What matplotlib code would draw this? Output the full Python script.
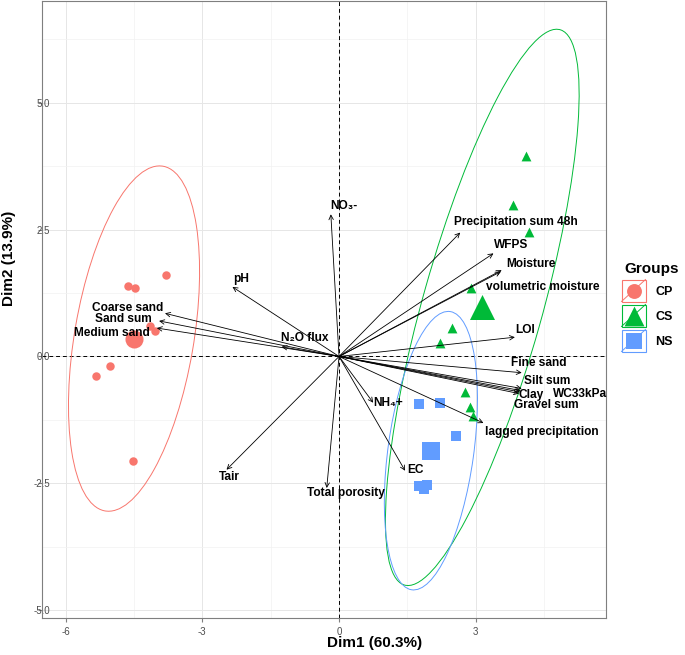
# PCA biplot (Dim1 vs Dim2) with group ellipses and variable arrows
import numpy as np
import matplotlib

matplotlib.use('Agg')
import matplotlib.pyplot as plt
from matplotlib.patches import Ellipse, Rectangle

plt.rcParams['font.family'] = ['Liberation Sans', 'DejaVu Sans']

# individuals
cp_x = [-3.80, -4.64, -4.47, -4.15, -4.05, -5.03, -5.34, -4.52]
cp_y = [1.60, 1.39, 1.35, 0.60, 0.51, -0.19, -0.38, -2.06]
cs_x = [4.18, 3.81, 4.11, 2.90, 2.49, 2.21, 2.77, 2.88, 2.95]
cs_y = [2.46, 2.99, 3.95, 1.34, 0.56, 0.26, -0.69, -1.00, -1.17]
ns_x = [1.76, 2.22, 2.56, 1.76, 1.93, 1.87]
ns_y = [-0.94, -0.92, -1.56, -2.56, -2.54, -2.61]

group_names = ['CP', 'CS', 'NS']
group_colors = ['#F8766D', '#00BA38', '#619CFF']
group_markers = ['o', '^', 's']
point_sizes = [37, 50, 45]
mean_sizes = [169, 324, 187]
# ellipse shape per group: var(Dim1), cov, var(Dim2)
ellipse_shape = [[2.07, 1.90, 11.56], [4.52, 8.93, 30.0], [1.045, 1.04, 7.52]]

# variables: arrow tips and label places
var_names = ['NO\u2083-', 'pH', 'Coarse sand', 'Sand sum', 'Medium sand',
             'N\u2082O flux', 'Tair', 'Total porosity', 'EC', 'NH\u2084+',
             'lagged precipitation', 'Gravel sum', 'WC33kPa', 'Clay',
             'Silt sum', 'Fine sand', 'LOI', 'volumetric moisture',
             'Moisture', 'WFPS', 'Precipitation sum 48h']
var_x = [-0.18, -2.34, -3.82, -3.95, -4.00, -1.26, -2.47, -0.27, 1.45, 0.75,
         3.17, 3.95, 3.97, 3.98, 4.01, 4.01, 3.86, 3.55, 3.57, 3.39, 2.66]
var_y = [2.80, 1.37, 0.85, 0.70, 0.56, 0.19, -2.23, -2.59, -2.25, -0.91,
         -1.31, -0.73, -0.70, -0.67, -0.63, -0.32, 0.38, 1.67, 1.70, 2.03, 2.44]
label_x = [0.11, -2.15, -4.65, -4.73, -4.98, -0.75, -2.41, 0.16, 1.67, 1.08,
           4.45, 4.54, 5.29, 4.21, 4.56, 4.38, 4.08, 4.47, 4.21, 3.77, 3.89]
label_y = [2.96, 1.53, 0.95, 0.74, 0.47, 0.36, -2.37, -2.69, -2.23, -0.92,
           -1.48, -0.96, -0.73, -0.75, -0.49, -0.13, 0.52, 1.37, 1.82, 2.19, 2.65]


def draw_ellipse(ax, cx, cy, shape, color):
    cov = np.array([[shape[0], shape[1]], [shape[1], shape[2]]])
    vals, vecs = np.linalg.eigh(cov)
    angle = np.degrees(np.arctan2(vecs[1, 1], vecs[0, 1]))
    ell = Ellipse((cx, cy), 2 * np.sqrt(vals[1]), 2 * np.sqrt(vals[0]),
                  angle=angle, fill=False, edgecolor=color, lw=0.7, zorder=2)
    ax.add_patch(ell)


def main():
    fig = plt.figure(figsize=(6.85, 6.55), dpi=100)
    ax = fig.add_axes([42 / 685, 37 / 655, 564 / 685, 617 / 655])

    groups_x = [cp_x, cs_x, ns_x]
    groups_y = [cp_y, cs_y, ns_y]
    for gx, gy, col, mk, s1, s2, shp in zip(groups_x, groups_y, group_colors, group_markers,
                                            point_sizes, mean_sizes, ellipse_shape):
        mx = np.mean(gx)
        my = np.mean(gy)
        draw_ellipse(ax, mx, my, shp, col)
        ax.scatter(gx, gy, s=s1, marker=mk, color=col, linewidths=0, zorder=3)
        ax.scatter([mx], [my], s=s2, marker=mk, color=col, linewidths=0, zorder=3)

    # axes through origin
    ax.axhline(0, color='black', ls=(0, (4, 3)), lw=0.7, zorder=1)
    ax.axvline(0, color='black', ls=(0, (4, 3)), lw=0.7, zorder=1)

    # variable arrows
    for i in range(len(var_names)):
        ax.annotate('', xy=(var_x[i], var_y[i]), xytext=(0, 0),
                    arrowprops=dict(arrowstyle='->', lw=0.6, color='black',
                                    shrinkA=0, shrinkB=0, mutation_scale=8),
                    zorder=4)
        ax.text(label_x[i], label_y[i], var_names[i], ha='center', va='center',
                fontsize=8.6, fontweight='bold', zorder=5)

    ax.set_xlim(-6.52, 5.86)
    ax.set_ylim(-5.15, 7.0)
    ax.set_xticks([-6, -3, 0, 3])
    ax.set_xticklabels(['-6', '-3', '0', '3'])
    ax.set_yticks([-5, -2.5, 0, 2.5, 5])
    ax.set_yticklabels(['-5.0', '-2.5', '0.0', '2.5', '5.0'])
    ax.set_xticks([-4.5, -1.5, 1.5, 4.5], minor=True)
    ax.set_yticks([-3.75, -1.25, 1.25, 3.75, 6.25], minor=True)
    ax.grid(True, which='major', color='#E6E6E6', lw=0.7, zorder=0)
    ax.grid(True, which='minor', color='#F2F2F2', lw=0.5, zorder=0)
    ax.set_axisbelow(True)
    ax.tick_params(which='minor', length=0)
    ax.tick_params(axis='both', which='major', length=3, color='#7F7F7F',
                   labelsize=7, labelcolor='#4D4D4D')
    ax.tick_params(axis='y', pad=-9)
    for sp in ax.spines.values():
        sp.set_color('#7F7F7F')
        sp.set_linewidth(0.8)

    # axis titles
    fig.text(375 / 685, 1 - 643 / 655, 'Dim1 (60.3%)', ha='center', va='center',
             fontsize=11, fontweight='bold')
    fig.text(9 / 685, 1 - 258 / 655, 'Dim2 (13.9%)', ha='center', va='center',
             fontsize=11, fontweight='bold', rotation=90)

    # legend drawn by hand in pixel units
    lax = fig.add_axes([612 / 685, 1 - 360 / 655, 73 / 685, 105 / 655])
    lax.set_xlim(612, 685)
    lax.set_ylim(360, 255)
    lax.axis('off')
    lax.text(652, 269, 'Groups', ha='center', va='center', fontsize=11, fontweight='bold')
    key_tops = [279.5, 304.5, 329.5]
    key_marker_sizes = [115, 205, 130]
    for top, name, col, mk, ms in zip(key_tops, group_names, group_colors,
                                      group_markers, key_marker_sizes):
        lax.add_patch(Rectangle((621.5, top), 24, 22, fill=False, edgecolor=col, lw=0.8))
        lax.plot([621.5, 645.5], [top + 22, top], color=col, lw=0.7)
        lax.scatter([633.5], [top + 11.5], s=ms, marker=mk, color=col, linewidths=0, zorder=3)
        lax.text(655, top + 12, name, ha='left', va='center', fontsize=9, fontweight='bold')

    fig.savefig('out.png', dpi=100)


if __name__ == '__main__':
    main()
